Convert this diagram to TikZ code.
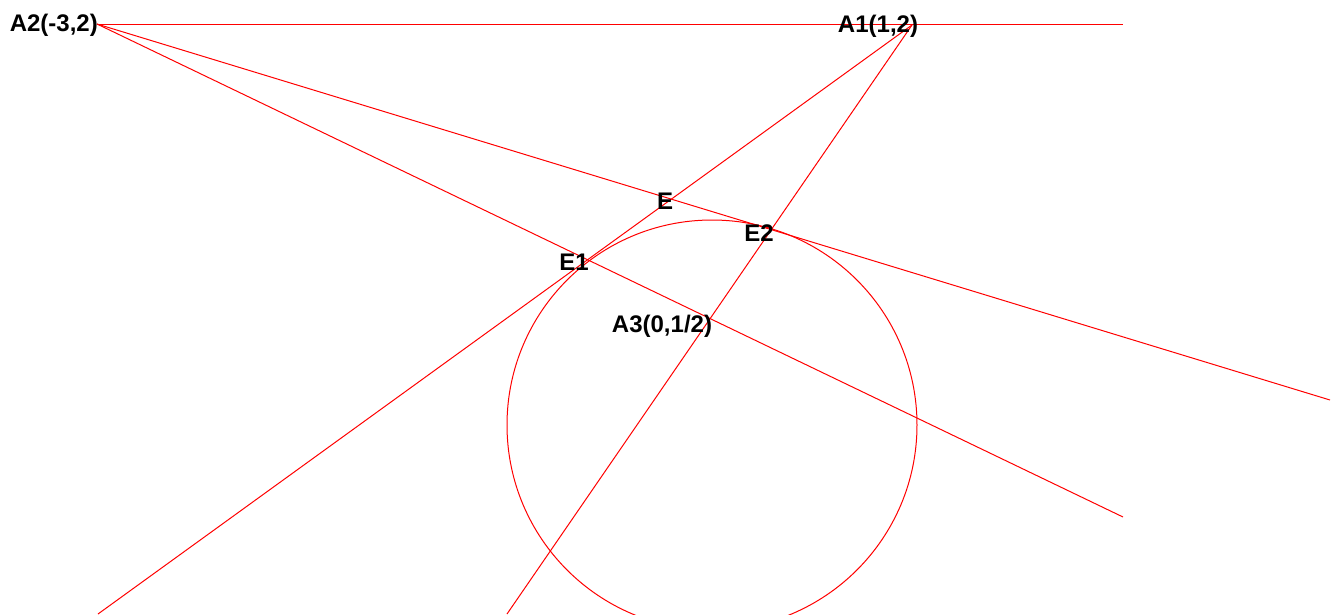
\documentclass[tikz,border=0pt]{standalone}
\usepackage{fontspec}
\setmainfont{Liberation Sans}
\begin{document}
\begin{tikzpicture}[x=1pt,y=-1pt,
  ln/.style={draw=red,line width=1pt},
  lbl/.style={inner sep=0pt,font=\fontsize{24}{24}\selectfont\bfseries,text=black}]
\path[fill=white] (0,0) rectangle (1334,614);
\useasboundingbox (0,0) rectangle (1334,614);
\coordinate (A2) at (97,24);
\coordinate (A1) at (912,25);
\coordinate (H) at (1123,24);
\coordinate (P1) at (1330,400);
\coordinate (P2) at (1123,517);
\coordinate (P3) at (98,614);
\coordinate (P4) at (507,614);
\coordinate (C) at (712,425);
\coordinate (E) at (intersection of A2--P1 and A1--P3);
\coordinate (E1) at (intersection of A2--P2 and A1--P3);
\coordinate (E2) at (intersection of A2--P1 and A1--P4);
\coordinate (A3) at (intersection of A2--P2 and A1--P4);
\draw[ln] (A2) -- (H);
\draw[ln] (A2) -- (P1);
\draw[ln] (A2) -- (P2);
\draw[ln] (A1) -- (P3);
\draw[ln] (A1) -- (P4);
\begin{scope}
\clip (0,0) rectangle (1334,614);
\draw[ln] (C) circle[radius=205];
\end{scope}
\node[lbl,anchor=east] (lA2) at (98,25) {A2(-3,2)};
\node[lbl] (lA1) at (878,26) {A1(1,2)};
\node[lbl] (lE) at (665,201) {E};
\node[lbl] (lE2) at (759,233) {E2};
\node[lbl] (lE1) at (574,262) {E1};
\node[lbl] (lA3) at (662,326) {A3(0,1/2)};
\end{tikzpicture}
\end{document}
